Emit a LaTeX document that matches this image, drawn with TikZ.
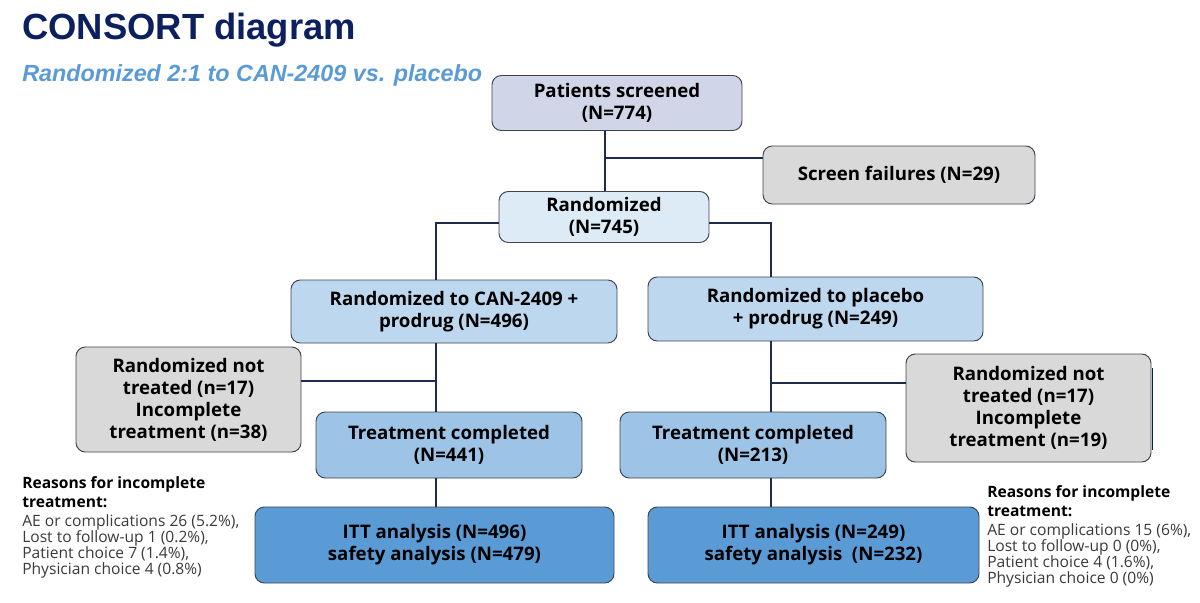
\documentclass[tikz,border=0pt]{standalone}
\usepackage{fontspec}
\setmainfont{Open Sans}
\newfontfamily\titlefont{Liberation Sans}
\definecolor{cPS}{HTML}{D0D5E8}
\definecolor{cRand}{HTML}{DDEBF7}
\definecolor{cArm}{HTML}{BDD7EE}
\definecolor{cTC}{HTML}{9DC3E6}
\definecolor{cITT}{HTML}{5B9BD5}
\definecolor{cGrey}{HTML}{D9D9D9}
\definecolor{boxline}{HTML}{3F4450}
\definecolor{linecol}{HTML}{1F2B4D}
\definecolor{titlecol}{HTML}{0C1F5E}
\definecolor{subcol}{HTML}{5B9BD5}
\definecolor{txtgrey}{HTML}{3A3A3A}
\def\px{*0.75pt}
\def\boxfont{\fontsize{14}{16.5}\selectfont\bfseries}
\def\notefont{\fontsize{11.7}{12}\selectfont}
\begin{document}
\begin{tikzpicture}[x=0.75pt,y=-0.75pt,
  box/.style={draw=boxline, line width=0.7pt, rounded corners=7pt, align=center, inner sep=0pt, font=\boxfont},
  conn/.style={draw=linecol, line width=0.8pt},
  note/.style={anchor=north west, align=left, inner sep=0pt, font=\notefont, text=txtgrey},
  titlestyle/.style={anchor=base west, inner sep=0pt, text=titlecol, font=\titlefont\fontsize{27.3}{30}\selectfont\bfseries},
  substyle/.style={anchor=base west, inner sep=0pt, text=subcol, font=\titlefont\fontsize{17.5}{20}\selectfont\bfseries\itshape}
]
\useasboundingbox[fill=white] (0,0) rectangle (1200,603);

\node[titlestyle] (title) at (22,40) {CONSORT diagram};
\node[substyle] (subtitle) at (22,81.5) {Randomized 2:1 to CAN-2409 vs. placebo};

\node[box, fill=cPS, minimum width=250\px, minimum height=55\px] (ps) at (617,103) {Patients screened\\(N=774)};
\node[box, fill=cGrey, minimum width=272\px, minimum height=58\px] (sf) at (899,175) {Screen failures (N=29)};
\node[box, fill=cRand, minimum width=210\px, minimum height=51\px] (rand) at (604,217) {Randomized\\(N=745)};
\node[box, fill=cArm, minimum width=326\px, minimum height=63\px] (can) at (454,311.5) {Randomized to CAN-2409 +\\prodrug (N=496)};
\node[box, fill=cArm, minimum width=335\px, minimum height=64\px] (plc) at (815.5,309) {Randomized to placebo\\+ prodrug (N=249)};
\node[box, fill=cGrey, minimum width=225\px, minimum height=105\px] (lg) at (188.5,399.5) {Randomized not\\treated (n=17)\\Incomplete\\treatment (n=38)};
\node[box, fill=cGrey, minimum width=245\px, minimum height=108\px] (rg) at (1028.5,408) {Randomized not\\treated (n=17)\\Incomplete\\treatment (n=19)};
\node[box, fill=cTC, minimum width=266\px, minimum height=66\px] (tcl) at (449,445) {Treatment completed\\(N=441)};
\node[box, fill=cTC, minimum width=266\px, minimum height=66\px] (tcr) at (753,445) {Treatment completed\\(N=213)};
\node[box, fill=cITT, minimum width=359\px, minimum height=76\px] (ittl) at (434.5,545) {ITT analysis (N=496)\\safety analysis (N=479)};
\node[box, fill=cITT, minimum width=331\px, minimum height=76\px] (ittr) at (813.5,545) {ITT analysis (N=249)\\safety analysis\ \ (N=232)};

\draw[draw=titlecol, line width=1.4pt] ([xshift=1\px, yshift=-14\px]rg.north east) -- ([xshift=1\px, yshift=12\px]rg.south east);

\coordinate (c1) at (605,158);
\coordinate (ra) at (436,223);
\coordinate (rb) at (771,223);
\coordinate (la) at (436,381);
\coordinate (rc) at (771,383);

\draw[conn] (c1 |- ps.south) -- (c1 |- rand.north);
\draw[conn] (c1) -- (c1 -| sf.west);
\draw[conn] (rand.west |- ra) -- (ra) -- (ra |- can.north);
\draw[conn] (rand.east |- rb) -- (rb) -- (rb |- plc.north);
\draw[conn] (la |- can.south) -- (la |- tcl.north);
\draw[conn] (la) -- (la -| lg.east);
\draw[conn] (la |- tcl.south) -- (la |- ittl.north);
\draw[conn] (rc |- plc.south) -- (rc |- tcr.north);
\draw[conn] (rc) -- (rc -| rg.west);
\draw[conn] (rc |- tcr.south) -- (rc |- ittr.north);

\node[note] (nl) at (22,476) {\textbf{\color{black}Reasons for incomplete}\\[2.25pt]\textbf{\color{black}treatment:}\\[2.25pt]AE or complications 26 (5.2\%),\\Lost to follow-up 1 (0.2\%),\\Patient choice 7 (1.4\%),\\Physician choice 4 (0.8\%)};
\node[note] (nr) at (987,485) {\textbf{\color{black}Reasons for incomplete}\\[2.25pt]\textbf{\color{black}treatment:}\\[2.25pt]AE or complications 15 (6\%),\\Lost to follow-up 0 (0\%),\\Patient choice 4 (1.6\%),\\Physician choice 0 (0\%)};
\end{tikzpicture}
\end{document}
